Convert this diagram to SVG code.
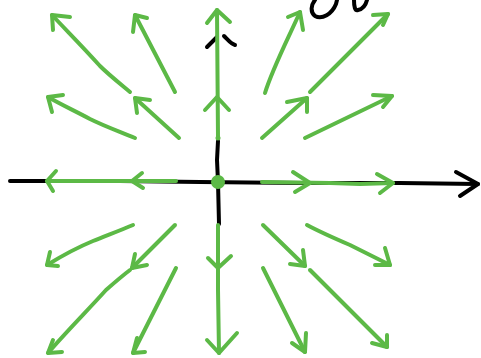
<svg xmlns="http://www.w3.org/2000/svg" width="481" height="358" viewBox="0 0 481 358">
<style>
.ax{fill:none;stroke:#000;stroke-width:4;stroke-linecap:round;stroke-linejoin:round}
.g{fill:none;stroke:#5cb946;stroke-width:4;stroke-linecap:round;stroke-linejoin:round}
</style>
<rect width="481" height="358" fill="#fff"/>
<g id="axes">
<path class="ax" d="M10,181 L120,181 L200,182 L300,183 L400,183 L478,184"/>
<path class="ax" d="M456,172 L478,184 L460,196"/>
<path class="ax" d="M218,141 L217,160 L218,182 L219,224"/>
<path class="ax" d="M207,47 L217,37 M224,36 C228,40 231,44 235,45"/>
<path class="ax" d="M315,0 C311,5 310,12 315,16 C322,20 332,14 336,4 L337,0"/>
<path class="ax" d="M354,0 C354,7 355,11 358,10 C363,9 366,4 367,0"/>
</g>
<g id="connectors">
<!-- vertical up -->
<path class="g" d="M218,138 L217,10"/>
<path class="g" d="M207,23 L217,10 L230,22"/>
<path class="g" d="M205,110 L217,97 L229,110"/>
<!-- vertical down -->
<path class="g" d="M218,225 L218,290 L219,353"/>
<path class="g" d="M208,258 L218,268 L231,256"/>
<path class="g" d="M207,340 L219,353 L237,333"/>
<!-- left -->
<path class="g" d="M176,181 L47,181"/>
<path class="g" d="M142,173 L132,181 L143,188"/>
<path class="g" d="M56,171 L47,181 L53,191"/>
<!-- right -->
<path class="g" d="M262,182 L330,183 L360,184 L393,183"/>
<path class="g" d="M293,172 L310,183 L295,192"/>
<path class="g" d="M377,174 L393,183 L380,193"/>
<!-- upper left -->
<path class="g" d="M130,92 C118,82 108,74 100,66 C82,46 66,30 52,15"/>
<path class="g" d="M70,17 L52,15 L53,30"/>
<path class="g" d="M175,92 L135,15"/>
<path class="g" d="M147,18 L135,15 L133,32"/>
<path class="g" d="M135,138 C118,131 104,126 90,119 C75,111 60,104 48,97"/>
<path class="g" d="M63,95 L48,97 L52,112"/>
<path class="g" d="M179,138 L135,98"/>
<path class="g" d="M150,100 L135,98 L137,113"/>
<!-- upper right -->
<path class="g" d="M265,93 C272,70 285,45 300,12"/>
<path class="g" d="M288,17 L300,12 L303,30"/>
<path class="g" d="M310,92 L388,14"/>
<path class="g" d="M373,15 L388,14 L383,25"/>
<path class="g" d="M262,138 L307,98"/>
<path class="g" d="M287,102 L307,98 L307,112"/>
<path class="g" d="M305,138 L392,96"/>
<path class="g" d="M373,95 L392,96 L383,107"/>
<!-- lower left -->
<path class="g" d="M133,225 C119,231 105,236 93,241 C76,248 60,257 47,265"/>
<path class="g" d="M50,252 L47,265 L58,266"/>
<path class="g" d="M130,270 C122,276 114,283 106,290 C88,310 66,332 48,353"/>
<path class="g" d="M175,225 L132,268"/>
<path class="g" d="M135,254 L132,268 L147,265"/>
<path class="g" d="M53,340 L48,353 L62,352"/>
<path class="g" d="M176,268 L133,353"/>
<path class="g" d="M137,338 L133,353 L145,352"/>
<!-- lower right -->
<path class="g" d="M263,225 L305,266"/>
<path class="g" d="M303,250 L305,266 L290,264"/>
<path class="g" d="M307,225 C320,232 336,239 350,245 C364,252 378,259 390,265"/>
<path class="g" d="M385,248 L390,265 L375,265"/>
<path class="g" d="M263,268 L305,352"/>
<path class="g" d="M306,333 L305,352 L292,343"/>
<path class="g" d="M310,270 L387,347"/>
<path class="g" d="M387,335 L387,347 L372,343"/>
</g>
<g id="origin">
<circle cx="218" cy="182" r="7" fill="#5cb946"/>
<circle cx="218" cy="138" r="2.5" fill="#5cb946"/>
</g>
</svg>
